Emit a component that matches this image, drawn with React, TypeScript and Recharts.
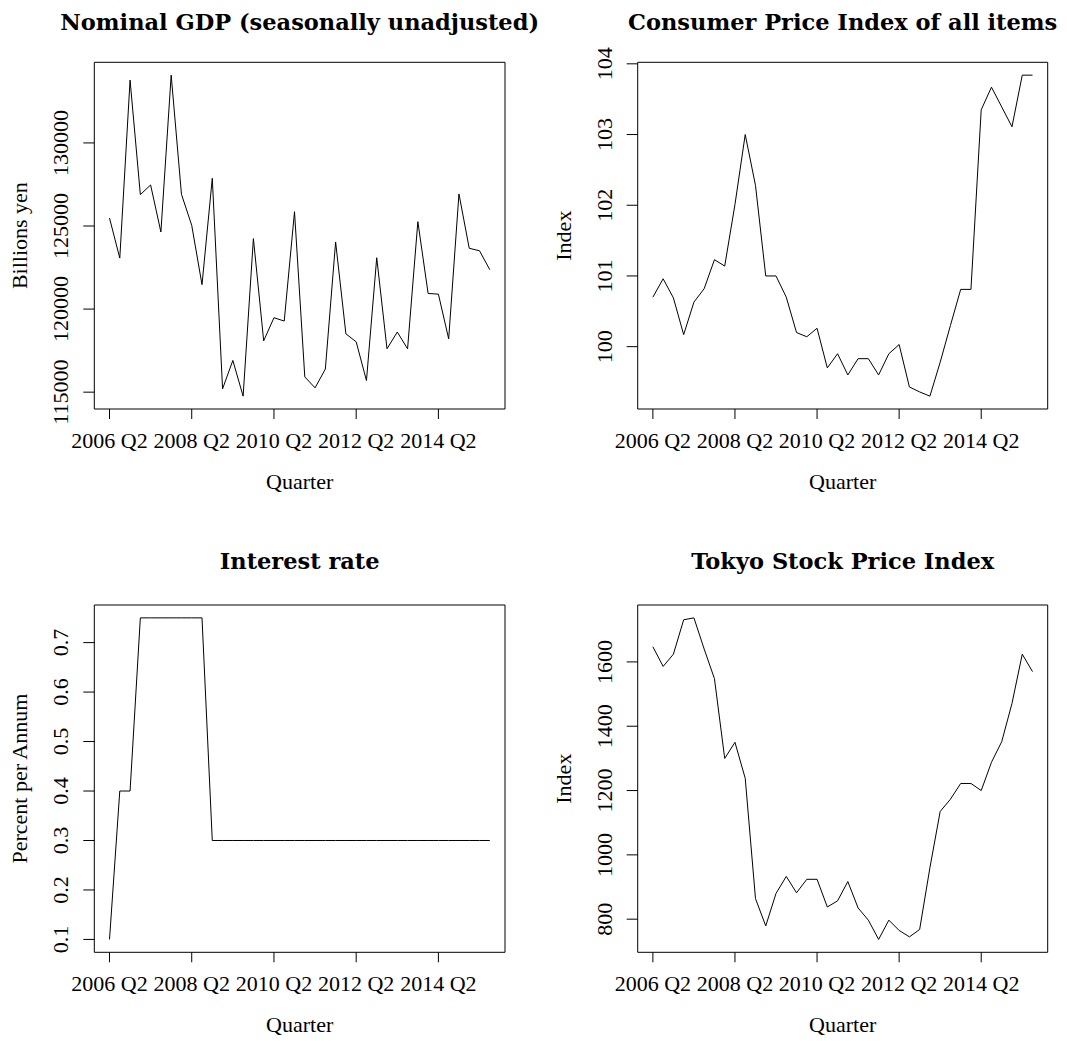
import React from 'react';
import { LineChart, Line, XAxis, YAxis, ReferenceArea } from 'recharts';

// quarterly observations, 2006 Q2 .. 2015 Q3
const quarters = [
  '2006 Q2', '2006 Q3', '2006 Q4',
  '2007 Q1', '2007 Q2', '2007 Q3', '2007 Q4',
  '2008 Q1', '2008 Q2', '2008 Q3', '2008 Q4',
  '2009 Q1', '2009 Q2', '2009 Q3', '2009 Q4',
  '2010 Q1', '2010 Q2', '2010 Q3', '2010 Q4',
  '2011 Q1', '2011 Q2', '2011 Q3', '2011 Q4',
  '2012 Q1', '2012 Q2', '2012 Q3', '2012 Q4',
  '2013 Q1', '2013 Q2', '2013 Q3', '2013 Q4',
  '2014 Q1', '2014 Q2', '2014 Q3', '2014 Q4',
  '2015 Q1', '2015 Q2', '2015 Q3',
];
const xTicks = [0, 8, 16, 24, 32];

const gdp = [
  125480, 123070, 133780, 126890, 127470, 124640, 134080, 126910, 125040, 121470,
  127870, 115200, 116910, 114760, 124240, 118090, 119480, 119280, 125860, 115920,
  115260, 116390, 124040, 118510, 118030, 115700, 123090, 117610, 118620, 117610,
  125260, 120940, 120900, 118210, 126930, 123660, 123510, 122370,
];
const gdpTicks = [115000, 120000, 125000, 130000];

const cpi = [
  100.7, 100.96, 100.69, 100.17, 100.63, 100.82, 101.23, 101.14, 102.01, 103.0,
  102.28, 101.0, 101.0, 100.7, 100.2, 100.14, 100.26, 99.7, 99.9, 99.6,
  99.83, 99.83, 99.6, 99.9, 100.03, 99.43, 99.36, 99.3, 99.78, 100.3,
  100.81, 100.81, 103.35, 103.67, 103.39, 103.11, 103.84, 103.84,
];
const cpiTicks = [100, 101, 102, 103, 104];

const interest = [
  0.1, 0.4, 0.4, 0.75, 0.75, 0.75, 0.75, 0.75, 0.75, 0.75,
  0.3, 0.3, 0.3, 0.3, 0.3, 0.3, 0.3, 0.3, 0.3, 0.3,
  0.3, 0.3, 0.3, 0.3, 0.3, 0.3, 0.3, 0.3, 0.3, 0.3,
  0.3, 0.3, 0.3, 0.3, 0.3, 0.3, 0.3, 0.3,
];
const interestTicks = [0.1, 0.2, 0.3, 0.4, 0.5, 0.6, 0.7];

const topix = [
  1647, 1586, 1624, 1731, 1737, 1640, 1548, 1300, 1350, 1238,
  864, 779, 880, 933, 882, 924, 924, 838, 857, 917,
  835, 797, 737, 797, 765, 745, 768, 960, 1135, 1173,
  1222, 1222, 1200, 1288, 1352, 1471, 1624, 1570,
];
const topixTicks = [800, 1000, 1200, 1400, 1600];

const SERIF = '"Liberation Serif", "Times New Roman", serif';
const TITLE_FONT = '"DejaVu Serif", serif';
const FS = 22;

// R pads axis ranges by 4% on each side
const pad = (lo: number, hi: number): [number, number] => {
  const d = (hi - lo) * 0.04;
  return [lo - d, hi + d];
};
const X_DOMAIN = pad(0, quarters.length - 1);

interface PanelProps {
  left: number;
  top: number;
  width: number;
  height: number;
  plotLeft: number;
  plotTop: number;
  plotRight: number;
  plotBottom: number;
  titleY: number;
  title: string;
  yLabel: string;
  values: number[];
  yTicks: number[];
  fmt?: (v: number) => string;
}

const Panel: React.FC<PanelProps> = (p) => {
  const rows = p.values.map((v, i) => ({ idx: i, q: quarters[i], v }));
  const yDomain = pad(Math.min(...p.values), Math.max(...p.values));
  const fmt = p.fmt || ((v: number) => String(v));
  const boxW = p.width - p.plotLeft - p.plotRight;
  const boxH = p.height - p.plotTop - p.plotBottom;
  const cx = p.plotLeft + boxW / 2;
  const cy = p.plotTop + boxH / 2;
  const boxBottom = p.plotTop + boxH;

  const YTick = (t: any) => {
    const x = t.x - 15;
    return (
      <text x={x} y={t.y} transform={`rotate(-90 ${x} ${t.y})`} textAnchor="middle"
        fontFamily={SERIF} fontSize={FS} fill="#000">
        {fmt(t.payload.value)}
      </text>
    );
  };
  const XTick = (t: any) => (
    <text x={t.x} y={t.y + 28.5} textAnchor="middle" fontFamily={SERIF} fontSize={FS} fill="#000">
      {quarters[t.payload.value]}
    </text>
  );

  return (
    <div style={{ position: 'absolute', left: p.left, top: p.top, width: p.width, height: p.height }}>
      <LineChart width={p.width} height={p.height} data={rows}
        margin={{ top: p.plotTop, right: p.plotRight, bottom: 0, left: 0 }}>
        <XAxis dataKey="idx" type="number" domain={X_DOMAIN} allowDataOverflow ticks={xTicks}
          interval={0} height={p.plotBottom} axisLine={false} tickLine={{ stroke: '#000' }}
          tickSize={10} tickMargin={0} tick={XTick} />
        <YAxis type="number" domain={yDomain} allowDataOverflow ticks={p.yTicks} interval={0}
          width={p.plotLeft} axisLine={false} tickLine={{ stroke: '#000' }}
          tickSize={11} tickMargin={0} tick={YTick} />
        <ReferenceArea x1={X_DOMAIN[0]} x2={X_DOMAIN[1]} y1={yDomain[0]} y2={yDomain[1]}
          fill="none" stroke="#000" strokeWidth={1} ifOverflow="visible" />
        <Line type="linear" dataKey="v" stroke="#000" strokeWidth={1} dot={false}
          isAnimationActive={false} />
      </LineChart>
      <svg width={p.width} height={p.height}
        style={{ position: 'absolute', left: 0, top: 0, pointerEvents: 'none', overflow: 'visible' }}>
        <text x={cx} y={p.titleY} textAnchor="middle" fontFamily={TITLE_FONT}
          fontWeight="bold" fontSize={22.5} fill="#000">{p.title}</text>
        <text x={cx} y={boxBottom + 80} textAnchor="middle" fontFamily={SERIF}
          fontSize={FS} fill="#000">Quarter</text>
        <text x={p.plotLeft - 67} y={cy} transform={`rotate(-90 ${p.plotLeft - 67} ${cy})`}
          textAnchor="middle" fontFamily={SERIF} fontSize={FS} fill="#000">{p.yLabel}</text>
      </svg>
    </div>
  );
};

export default function App() {
  return (
    <div style={{ position: 'absolute', left: 0, top: 0, width: 1067, height: 1041, background: '#fff' }}>
      <Panel left={0} top={0} width={533} height={520} plotLeft={94.3} plotTop={62.3}
        plotRight={28} plotBottom={111} titleY={30} title="Nominal GDP (seasonally unadjusted)"
        yLabel="Billions yen" values={gdp} yTicks={gdpTicks} />
      <Panel left={533} top={0} width={534} height={520} plotLeft={104.7} plotTop={62.3}
        plotRight={19.3} plotBottom={111} titleY={30} title="Consumer Price Index of all items"
        yLabel="Index" values={cpi} yTicks={cpiTicks} />
      <Panel left={0} top={520} width={533} height={521} plotLeft={94.3} plotTop={85}
        plotRight={28} plotBottom={88.7} titleY={49} title="Interest rate"
        yLabel="Percent per Annum" values={interest} yTicks={interestTicks}
        fmt={(v) => v.toFixed(1)} />
      <Panel left={533} top={520} width={534} height={521} plotLeft={104.7} plotTop={85}
        plotRight={19.3} plotBottom={88.7} titleY={49} title="Tokyo Stock Price Index"
        yLabel="Index" values={topix} yTicks={topixTicks} />
    </div>
  );
}
